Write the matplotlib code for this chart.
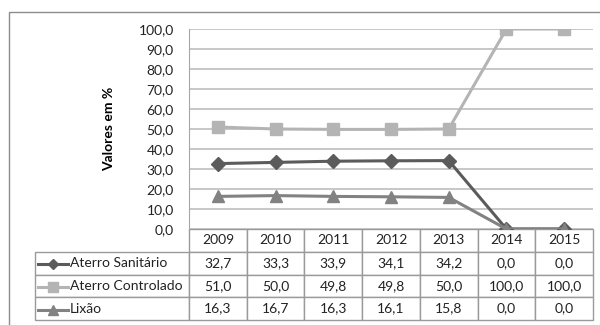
import matplotlib
matplotlib.use("Agg")
from matplotlib import pyplot as plt
from matplotlib.lines import Line2D
from matplotlib.patches import Rectangle

plt.rcParams['font.family'] = ['Lato', 'DejaVu Sans']

anos = ['2009', '2010', '2011', '2012', '2013', '2014', '2015']
aterro_sanitario = [32.7, 33.3, 33.9, 34.1, 34.2, 0.0, 0.0]
aterro_controlado = [51.0, 50.0, 49.8, 49.8, 50.0, 100.0, 100.0]
lixao = [16.3, 16.7, 16.3, 16.1, 15.8, 0.0, 0.0]

series = [
    ('Aterro Sanitário', aterro_sanitario, '#5b5b5b', 'D', 7),
    ('Aterro Controlado', aterro_controlado, '#b4b4b4', 's', 8),
    ('Lixão', lixao, '#828282', '^', 8.5),
]

fig = plt.figure(figsize=(6, 3.25), dpi=100)
fig.add_artist(Rectangle((9 / 600, -0.1), 1.2, 1 - 12 / 325 + 0.1, transform=fig.transFigure,
                         fill=False, edgecolor='#8c8c8c', linewidth=1))

ax = fig.add_axes([189 / 600, 1 - 229 / 325, 404 / 600, 200 / 325])

x = list(range(len(anos)))
for nome, valores, cor, marc, tam in series:
    ax.plot(x, valores, color=cor, linewidth=2.2, marker=marc, markersize=tam, zorder=3)

ax.set_xlim(-0.5, len(anos) - 0.5)
ax.set_ylim(0, 100)
ax.set_yticks(range(0, 101, 10))
ax.set_yticklabels([f'{v:.1f}'.replace('.', ',') for v in range(0, 101, 10)], fontsize=10)
ax.set_xticks([])
ax.grid(axis='y', color='#bdbdbd', linewidth=1.2)
ax.set_axisbelow(True)
for s in ['top', 'right', 'bottom']:
    ax.spines[s].set_visible(False)
ax.spines['left'].set_color('#a6a6a6')
ax.tick_params(axis='y', length=0, pad=11, labelcolor='#222222')
ax.set_ylabel('Valores em %', fontsize=10, fontweight='bold', labelpad=17)

# tabela de dados abaixo do grafico
fmt = lambda v: f'{v:.1f}'.replace('.', ',')
cells = [[''] + anos]
for nome, valores, cor, marc, tam in series:
    cells.append([nome] + [fmt(v) for v in valores])

left = (35 - 189) / 404
tab = ax.table(cellText=cells, cellLoc='center', bbox=[left, -91 / 200, 1 - left, 91 / 200],
               colWidths=[154] + [57.7] * len(anos))
tab.auto_set_font_size(False)
tab.set_fontsize(10)
for (r, c), cell in tab.get_celld().items():
    cell.set_edgecolor('#9a9a9a')
    cell.set_linewidth(1)
    cell.get_text().set_color('#222222')
    if c == 0:
        cell.get_text().set_ha('left')
        cell.PAD = 0.225
tab[0, 0].set_visible(False)

# chaves da legenda nas linhas da tabela
for i, (nome, valores, cor, marc, tam) in enumerate(series):
    y = -(23 * i + 34.5) / 200
    xs = [(38 - 189) / 404, (68 - 189) / 404]
    ax.add_line(Line2D(xs, [y, y], transform=ax.transAxes, color=cor, linewidth=2.2, clip_on=False))
    ax.add_line(Line2D([sum(xs) / 2], [y], transform=ax.transAxes, color=cor, marker=marc,
                       markersize=tam - 1.5, clip_on=False))

fig.savefig('out.png', dpi=100)
